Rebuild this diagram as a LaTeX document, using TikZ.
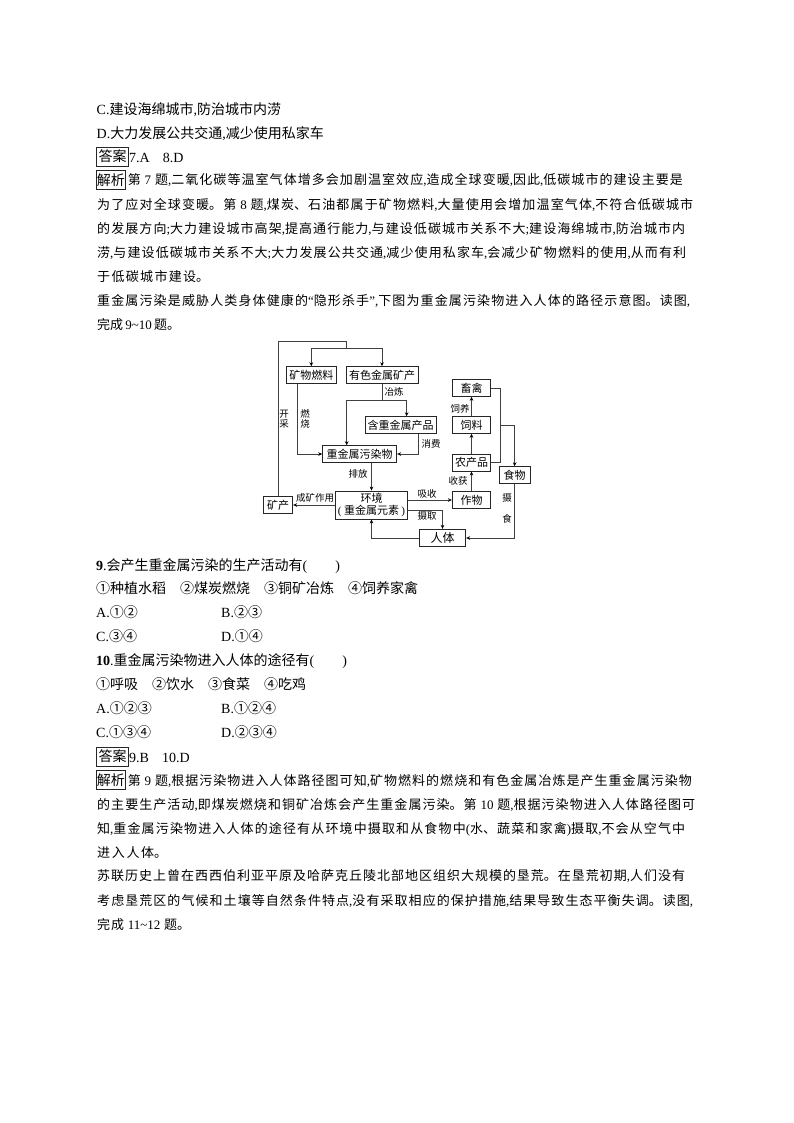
\documentclass[tikz,border=0pt]{standalone}
\usepackage{fontspec}
\setmainfont{Noto Sans CJK SC}
\newfontfamily\latfont{Liberation Serif}
\usetikzlibrary{arrows.meta,calc}
\newcommand\ltn[1]{{\latfont #1}}
\XeTeXlinebreaklocale "zh"
\XeTeXlinebreakskip=0pt plus 3pt
\newcommand\bodystrut{\rule[-0.12em]{0pt}{1em}}
\newcommand\jl[2]{\parbox{#1pt}{\tolerance=9999 \hbadness=10000 \parfillskip=0pt \bodystrut #2\par}}
\tikzset{
  x=1pt,y=-1pt,
  bigline/.style={anchor=west,inner sep=0pt,font=\fontsize{14}{16}\selectfont,execute at begin node=\bodystrut},
  parline/.style={anchor=west,inner sep=0pt,font=\fontsize{13}{15}\selectfont},
  tagbox/.style={draw=black!85,line width=0.7pt,inner sep=0pt,font=\fontsize{14}{16}\selectfont,minimum height=19pt},
  dbox/.style={draw=black!85,line width=0.9pt,inner sep=0pt,font=\fontsize{11}{12.5}\selectfont,minimum height=16.6pt,align=center},
  dlabel/.style={inner sep=0pt,font=\fontsize{9.5}{10.5}\selectfont,align=center},
  ln/.style={draw=black!75,line width=0.9pt},
  arr/.style={ln,-{Stealth[length=4pt,width=3.6pt,color=black]}}
}
\begin{document}
\begin{tikzpicture}
\useasboundingbox[fill=white] (0,0) rectangle (794,1123);
% upper text
\node[bigline] (t1) at (96.5,109) {\ltn{C.}建设海绵城市\ltn{,}防治城市内涝};
\node[bigline] (t2) at (96.5,133) {\ltn{D.}大力发展公共交通\ltn{,}减少使用私家车};
\node[tagbox,minimum width=31.6pt] (a1) at (112.5,156.5) {答案};
\node[bigline] (a1t) at (129,157) {\ltn{7.A\hspace{13pt}8.D}};
\node[tagbox,minimum width=28.4pt] (j1) at (110.9,179.7) {解析};
\node[parline] (p1) at (127.7,180) {\jl{555}{第\ltn{ 7 }题\ltn{,}二氧化碳等温室气体增多会加剧温室效应\ltn{,}造成全球变暖\ltn{,}因此\ltn{,}低碳城市的建设主要是}};
\node[parline] (p2) at (97,204.5) {\jl{596}{为了应对全球变暖。第\ltn{ 8 }题\ltn{,}煤炭、石油都属于矿物燃料\ltn{,}大量使用会增加温室气体\ltn{,}不符合低碳城市}};
\node[parline] (p3) at (97,229) {\jl{588}{的发展方向\ltn{;}大力建设城市高架\ltn{,}提高通行能力\ltn{,}与建设低碳城市关系不大\ltn{;}建设海绵城市\ltn{,}防治城市内}};
\node[parline] (p4) at (97,253) {\jl{589}{涝\ltn{,}与建设低碳城市关系不大\ltn{;}大力发展公共交通\ltn{,}减少使用私家车\ltn{,}会减少矿物燃料的使用\ltn{,}从而有利}};
\node[parline] (p5) at (97,277) {\jl{112}{于低碳城市建设。}};
\node[parline] (p6) at (97,301) {\jl{593}{重金属污染是威胁人类身体健康的\ltn{“}隐形杀手\ltn{”,}下图为重金属污染物进入人体的路径示意图。读图\ltn{,}}};
\node[parline] (p7) at (97,325) {\jl{83}{完成\ltn{ 9\textasciitilde 10 }题。}};
% diagram nodes
\node[dbox,minimum width=50.7pt] (kw) at (311.3,375) {矿物燃料};
\node[dbox,minimum width=72pt] (ys) at (382,375) {有色金属矿产};
\node[dbox,minimum width=38.4pt] (xq) at (471.5,388) {畜禽};
\node[dbox,minimum width=38.4pt] (sl) at (471.5,425) {饲料};
\node[dbox,minimum width=70.7pt] (hz) at (400.65,425) {含重金属产品};
\node[dbox,minimum width=74pt] (wr) at (359.7,454) {重金属污染物};
\node[dbox,minimum width=38.4pt] (ncp) at (471.5,462.7) {农产品};
\node[dbox,minimum width=30.7pt] (sw) at (514.65,475) {食物};
\node[dbox,minimum width=71.6pt,minimum height=28pt] (env) at (371.5,505) {环境\\\ltn{(} 重金属元素 \ltn{)}};
\node[dbox,minimum width=29.4pt] (kc) at (278,505) {矿产};
\node[dbox,minimum width=38.4pt] (zw) at (471.5,500) {作物};
\node[dbox,minimum width=46.4pt,minimum height=17.4pt] (rt) at (442.5,538) {\fontsize{12}{13}\selectfont 人体};
% junctions
\coordinate (jtop) at (346.7,341);
\coordinate (jmid) at (346.7,348.3);
\coordinate (jsm) at (382,400);
\coordinate (jfood) at (500,425);
% connectors
\draw[ln] (kc.north) |- (jtop) -- (jmid);
\draw[arr] (jmid) -| (kw.north);
\draw[arr] (jmid) -| (ys.north);
\draw[ln] (ys.south) -- (jsm);
\draw[arr] (jsm) -| ([xshift=6pt]hz.north);
\draw[arr] (jsm) -| ([xshift=-13pt]wr.north);
\draw[arr] ([xshift=-13.6pt]kw.south) |- (wr.west);
\draw[arr] ([xshift=18pt]hz.south) |- (wr.east);
\draw[arr] (wr.south -| env.north) -- (env.north);
\draw[arr] (env.west) -- (kc.east);
\draw[arr] (zw.west -| env.east) -- (zw.west);
\draw[arr] ([yshift=-5pt]env.east) -| (rt.north);
\draw[arr] (rt.west) -| (env.south);
\draw[arr] (sw.south) |- (rt.east);
\draw[arr] (zw.north) -- (ncp.south);
\draw[arr] (ncp.north) -- (sl.south);
\draw[arr] (sl.north) -- (xq.south);
\draw[ln] (xq.east) -- (xq.east -| jfood) -- (ncp.east -| jfood) -- (ncp.east);
\draw[arr] (jfood) -| (sw.north);
% connector labels
\node[dlabel] (l1) at (284,419) {开\\采};
\node[dlabel] (l2) at (305,419) {燃\\烧};
\node[dlabel] (l3) at (394,392) {冶炼};
\node[dlabel] (l4) at (431,444) {消费};
\node[dlabel] (l5) at (460,409) {饲养};
\node[dlabel] (l6) at (358,474) {排放};
\node[dlabel] (l7) at (458,481) {收获};
\node[dlabel] (l8) at (507,508.5) {摄\\[10pt]食};
\node[dlabel] (l9) at (315,498) {成矿作用};
\node[dlabel] (l10) at (427,494) {吸收};
\node[dlabel] (l11) at (427,516) {摄取};
% questions
\node[bigline] (q9) at (96,566) {\ltn{\textbf{9}.}会产生重金属污染的生产活动有\ltn{(}\hspace{28pt}\ltn{)}};
\node[bigline] (q9o) at (96,588) {①种植水稻\hspace{14pt}②煤炭燃烧\hspace{14pt}③铜矿冶炼\hspace{14pt}④饲养家禽};
\node[bigline] (q9a) at (96,612) {\ltn{A.}①②};
\node[bigline] (q9b) at (221,612) {\ltn{B.}②③};
\node[bigline] (q9c) at (96,636) {\ltn{C.}③④};
\node[bigline] (q9d) at (221,636) {\ltn{D.}①④};
\node[bigline] (q10) at (96,661) {\ltn{\textbf{10}.}重金属污染物进入人体的途径有\ltn{(}\hspace{28pt}\ltn{)}};
\node[bigline] (q10o) at (96,684) {①呼吸\hspace{14pt}②饮水\hspace{14pt}③食菜\hspace{14pt}④吃鸡};
\node[bigline] (q10a) at (96,708) {\ltn{A.}①②③};
\node[bigline] (q10b) at (221,708) {\ltn{B.}①②④};
\node[bigline] (q10c) at (96,732) {\ltn{C.}①③④};
\node[bigline] (q10d) at (221,732) {\ltn{D.}②③④};
\node[tagbox,minimum width=32pt] (a2) at (112.5,756.5) {答案};
\node[bigline] (a2t) at (129,757) {\ltn{9.B\hspace{13pt}10.D}};
\node[tagbox,minimum width=28.4pt] (j2) at (110.9,780) {解析};
\node[parline] (r1) at (127.7,780.5) {\jl{564}{第\ltn{ 9 }题\ltn{,}根据污染物进入人体路径图可知\ltn{,}矿物燃料的燃烧和有色金属冶炼是产生重金属污染物}};
\node[parline] (r2) at (97,805) {\jl{598}{的主要生产活动\ltn{,}即煤炭燃烧和铜矿冶炼会产生重金属污染。第\ltn{ 10 }题\ltn{,}根据污染物进入人体路径图可}};
\node[parline] (r3) at (97,829) {\jl{588}{知\ltn{,}重金属污染物进入人体的途径有从环境中摄取和从食物中\ltn{(}水、蔬菜和家禽\ltn{)}摄取\ltn{,}不会从空气中}};
\node[parline] (r4) at (97,852.5) {\jl{70}{进入人体。}};
\node[parline] (r5) at (97,876) {\jl{588}{苏联历史上曾在西西伯利亚平原及哈萨克丘陵北部地区组织大规模的垦荒。在垦荒初期\ltn{,}人们没有}};
\node[parline] (r6) at (97,900.5) {\jl{596}{考虑垦荒区的气候和土壤等自然条件特点\ltn{,}没有采取相应的保护措施\ltn{,}结果导致生态平衡失调。读图\ltn{,}}};
\node[parline] (r7) at (97,925) {\jl{93}{完成\ltn{ 11\textasciitilde 12 }题。}};
\end{tikzpicture}
\end{document}
